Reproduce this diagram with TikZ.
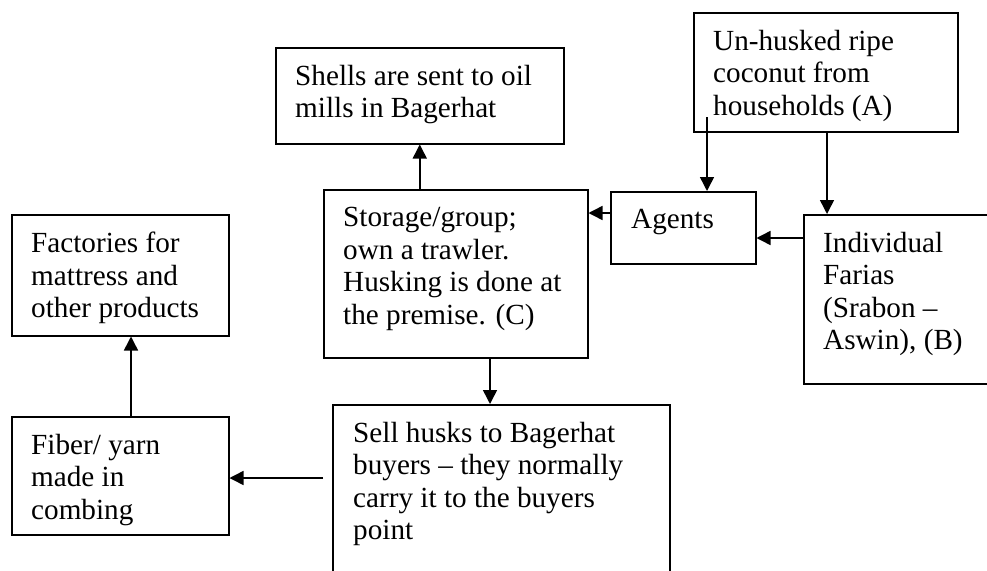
\documentclass[tikz,border=0pt]{standalone}
\usepackage{fontspec}
\setmainfont{Liberation Serif}
\usetikzlibrary{arrows.meta}

\begin{document}
\begin{tikzpicture}[x=1pt,y=-1pt,
  frame/.style={draw,line width=1.5pt,anchor=north west,inner sep=0pt},
  words/.style={anchor=north west,align=left,inner sep=0pt,font=\fontsize{29.2}{32.5}\selectfont},
  flow/.style={line width=1.5pt,-{Triangle[length=14pt,width=14pt]}}]
\useasboundingbox (0,0) rectangle (987,570);
%households (A)
\node[frame,minimum width=264,minimum height=119] (hh) at (693,12) {};
\node[words] (hh-t) at (713,30) {Un-husked ripe\\coconut from\\households (A)};
%shells
\node[frame,minimum width=288,minimum height=96] (shells) at (275,47) {};
\node[words] (shells-t) at (295,65) {Shells are sent to oil\\mills in Bagerhat};
%agents
\node[frame,minimum width=145,minimum height=72] (agents) at (610,191) {};
\node[words] (agents-t) at (631,209) {Agents};
%storage (C)
\node[frame,minimum width=264,minimum height=168] (store) at (323,189) {};
\node[words] (store-t) at (343,207) {Storage/group;\\own a trawler.\\Husking is done at\\the premise. (C)};
%farias (B)
\node[frame,minimum width=220,minimum height=169] (farias) at (803,214) {};
\node[words] (farias-t) at (823,232) {Individual\\Farias\\(Srabon --\\Aswin), (B)};
%factories
\node[frame,minimum width=217,minimum height=121] (factory) at (11,214) {};
\node[words] (factory-t) at (31,232) {Factories for\\mattress and\\other products};
%fiber
\node[frame,minimum width=217,minimum height=118] (fiber) at (11,416) {};
\node[words] (fiber-t) at (31,434) {Fiber/ yarn\\made in\\combing};
%sell husks
\node[frame,minimum width=337,minimum height=200] (sell) at (332,404) {};
\node[words] (sell-t) at (353,422) {Sell husks to Bagerhat\\buyers -- they normally\\carry it to the buyers\\point};
%arrows
\coordinate (hh-a) at (707,117);
\coordinate (hh-b) at (827,0);
\coordinate (fa) at (0,238);
\coordinate (as) at (0,213);
\coordinate (ss) at (490,0);
\coordinate (sf) at (323,478);
\coordinate (ff) at (131,0);
\draw[flow] (hh-a) -- (hh-a |- agents.north);
\draw[flow] (hh.south -| hh-b) -- (farias.north -| hh-b);
\draw[flow] (farias.west |- fa) -- (agents.east |- fa);
\draw[flow] (agents.west |- as) -- (store.east |- as);
\draw[flow] (store.north -| shells.south) -- (shells.south);
\draw[flow] (store.south -| ss) -- (sell.north -| ss);
\draw[flow] (sf) -- (fiber.east |- sf);
\draw[flow] (fiber.north -| ff) -- (factory.south -| ff);
\end{tikzpicture}
\end{document}
